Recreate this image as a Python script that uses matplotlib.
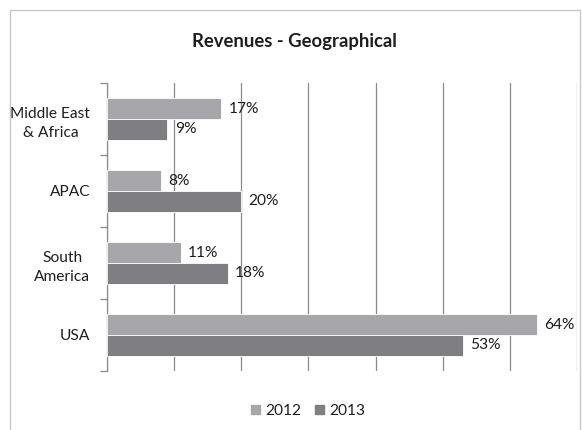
import matplotlib
matplotlib.use("Agg")
import matplotlib.pyplot as plt
from matplotlib.patches import Rectangle, Patch
import numpy as np

# data (bottom to top)
regions = ["USA", "South\nAmerica", "APAC", "Middle East\n& Africa"]
rev_2012 = [64, 11, 8, 17]
rev_2013 = [53, 18, 20, 9]
years = ["2012", "2013"]

c2012 = "#a7a7a9"
c2013 = "#7f7f82"
txt = "#1e1e1e"

plt.rcParams['font.family'] = ['Lato', 'DejaVu Sans']

fig = plt.figure(figsize=(5.82, 4.30), dpi=100)
ax = fig.add_axes([107/582, 1 - 371/430, (577 - 107)/582, (371 - 83)/430])

# chart frame
fig.patches.append(Rectangle((10/582, -0.1), (580 - 10)/582, 1.1 - 10/430,
                             transform=fig.transFigure, fill=False,
                             edgecolor="#c8c8c8", linewidth=1.0, zorder=0))

y = np.arange(len(regions))
h = 0.29
b1 = ax.barh(y + h/2, rev_2012, height=h, color=c2012, edgecolor="white", linewidth=0.6, zorder=3)
b2 = ax.barh(y - h/2, rev_2013, height=h, color=c2013, edgecolor="white", linewidth=0.6, zorder=3)

for bars, vals in [(b1, rev_2012), (b2, rev_2013)]:
    for bar, v in zip(bars, vals):
        ax.text(v + 1.1, bar.get_y() + bar.get_height()/2, f"{v}%",
                va="center", ha="left", fontsize=11.2, color=txt, zorder=4)

ax.set_xlim(0, 70)
ax.set_ylim(-0.5, 3.5)
ax.set_xticks(np.arange(0, 71, 10))
ax.xaxis.grid(True, color="#8a8a8a", linewidth=0.9)
ax.set_axisbelow(True)
ax.tick_params(axis="x", length=0, labelbottom=False)

ax.set_yticks(y)
ax.set_yticklabels(regions, fontsize=11.2, color=txt, linespacing=1.5,
                   multialignment="center")
ax.tick_params(axis="y", length=0, pad=12)
ax.set_yticks(np.arange(-0.5, 3.6, 1), minor=True)
ax.tick_params(axis="y", which="minor", length=5, color="#8a8a8a", width=0.9)

for s in ["top", "right", "bottom"]:
    ax.spines[s].set_visible(False)
ax.spines["left"].set_color("#8a8a8a")
ax.spines["left"].set_linewidth(0.9)

fig.text(294/582, 1 - 42/430, "Revenues - Geographical", ha="center", va="center",
         fontsize=13.3, fontweight="bold", color=txt)

handles = [Patch(color=c2012), Patch(color=c2013)]
fig.legend(handles, years, loc="center", bbox_to_anchor=(308/582, 1 - 411/430), ncol=2,
           frameon=False, fontsize=11.2, handlelength=0.6, handleheight=0.6,
           handletextpad=0.3, columnspacing=0.9, labelcolor=txt)

fig.savefig("out.png", dpi=100)
